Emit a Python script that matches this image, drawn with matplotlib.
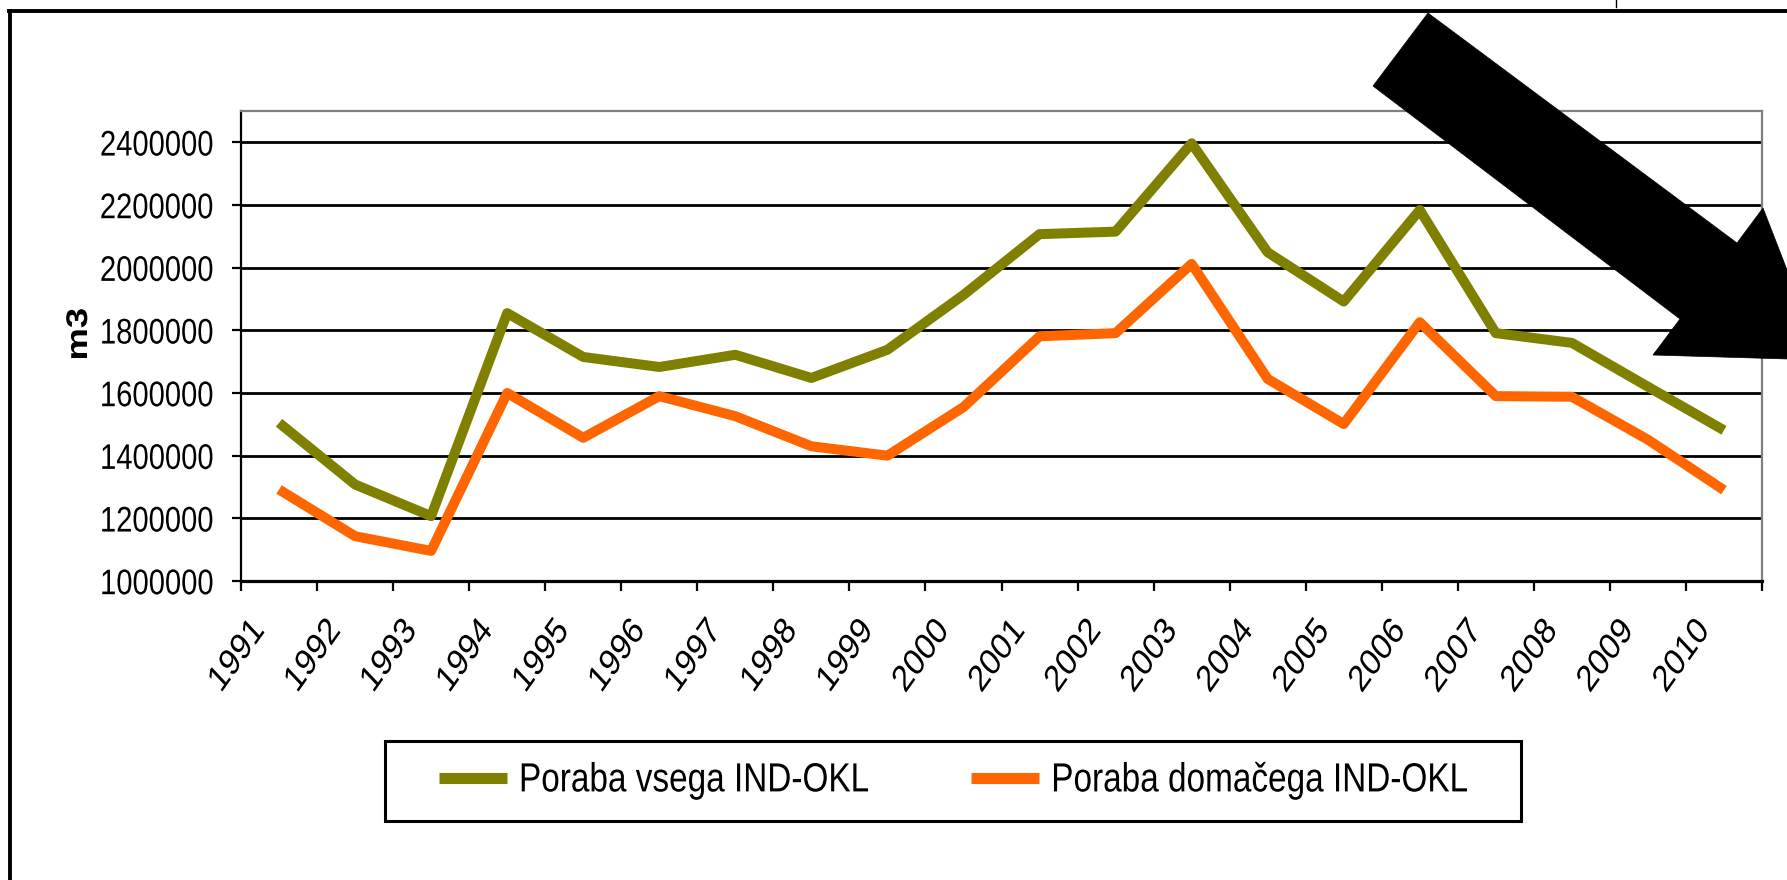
import matplotlib
matplotlib.use('Agg')
import matplotlib.pyplot as plt
from matplotlib import font_manager as fm
from matplotlib.lines import Line2D
from matplotlib.patches import Polygon, Rectangle
from matplotlib.transforms import ScaledTranslation, Affine2D
from matplotlib.patheffects import AbstractPathEffect
import numpy as np

# ---------------- data ----------------
years = ['1991', '1992', '1993', '1994', '1995', '1996', '1997', '1998', '1999', '2000',
         '2001', '2002', '2003', '2004', '2005', '2006', '2007', '2008', '2009', '2010']
poraba_vsega = [1505000, 1308000, 1207000, 1855000, 1715000, 1683000, 1722000, 1648000,
                1738000, 1913000, 2107000, 2115000, 2397000, 2049000, 1892000, 2184000,
                1791000, 1760000, 1620000, 1481000]
poraba_domacega = [1292000, 1143000, 1096000, 1600000, 1457000, 1590000, 1526000, 1430000,
                   1400000, 1555000, 1781000, 1791000, 2012000, 1645000, 1501000, 1826000,
                   1590000, 1588000, 1451000, 1290000]
ytick_values = [1000000, 1200000, 1400000, 1600000, 1800000, 2000000, 2200000, 2400000]
ytick_labels = ['1000000', '1200000', '1400000', '1600000', '1800000', '2000000', '2200000', '2400000']
series_names = ['Poraba vsega IND-OKL', 'Poraba domačega IND-OKL']
series_colors = ['#808000', '#FF6600']
y_label = 'm3'


def has_font(name):
    try:
        fm.findfont(fm.FontProperties(family=name), fallback_to_default=False)
        return True
    except Exception:
        return False


BASE = 'Liberation Sans' if has_font('Liberation Sans') else 'DejaVu Sans'
FONT = [BASE, 'DejaVu Sans']
SY = 1.22  # the source picture is stretched vertically


class VStretch(AbstractPathEffect):
    """Draw text stretched vertically about its own centre (text stays a Text object)."""

    def __init__(self, sy):
        super().__init__()
        self.sy = sy

    def draw_path(self, renderer, gc, tpath, affine, rgbFace=None):
        ext = tpath.get_extents(affine)
        cx = 0.5 * (ext.x0 + ext.x1)
        cy = 0.5 * (ext.y0 + ext.y1)
        t = affine + Affine2D().translate(-cx, -cy).scale(1.0, self.sy).translate(cx, cy)
        renderer.draw_path(gc, tpath, t, rgbFace)


stretch = [VStretch(SY)]

W, H = 1787, 880
DPI = 100
fig = plt.figure(figsize=(W / DPI, H / DPI), dpi=DPI)
fig.patch.set_facecolor('white')


def fx(x):
    return x / W


def fy(y):
    return 1 - y / H


# ---------------- axes ----------------
ax_l, ax_r, ax_t, ax_b = 241, 1762, 111, 581
ax = fig.add_axes([fx(ax_l), fy(ax_b), (ax_r - ax_l) / W, (ax_b - ax_t) / H])
ax.set_facecolor('white')

x = np.arange(len(years))
for vals, name, col in zip([poraba_vsega, poraba_domacega], series_names, series_colors):
    ax.plot(x, vals, color=col, lw=7.2, solid_capstyle='butt', solid_joinstyle='round',
            label=name, zorder=3)

ax.set_xlim(-0.5, len(years) - 0.5)
ax.set_ylim(1000000, 2500000)

ax.set_yticks(ytick_values)
ax.set_yticklabels(ytick_labels)
for lab in ax.get_yticklabels():
    lab.set_family(FONT)
    lab.set_fontsize(21)
    lab.set_path_effects(stretch)
ax.tick_params(axis='y', direction='out', length=6.5, width=1.6, pad=13.7, colors='black')

ax.set_xticks(np.arange(-0.5, len(years), 1.0))
ax.set_xticklabels([])
ax.tick_params(axis='x', direction='out', length=7.5, width=1.6, colors='black')

ax.yaxis.grid(True, color='black', lw=2.0)
ax.set_axisbelow(True)

ax.spines['left'].set_color('black')
ax.spines['left'].set_linewidth(1.6)
ax.spines['bottom'].set_color('black')
ax.spines['bottom'].set_linewidth(2.3)
for s in ['top', 'right']:
    ax.spines[s].set_color('#808080')
    ax.spines[s].set_linewidth(1.6)

# rotated year labels (centre of each label placed below-left of its category)
off = ScaledTranslation(-42 / DPI, -75 / DPI, fig.dpi_scale_trans)
for i, yr in enumerate(years):
    ax.text(i, 0, yr, transform=ax.get_xaxis_transform() + off, rotation=49,
            ha='center', va='center', rotation_mode='anchor', fontsize=22,
            family=FONT, color='black', path_effects=stretch)

# y axis title
fig.text(fx(79), fy(334), y_label, rotation=90, ha='center', va='center',
         fontsize=21.5, fontweight='bold', family=FONT, path_effects=stretch)

# ---------------- legend ----------------
leg_fs = 24
fs_px = leg_fs * DPI / 72
handles = [Line2D([], [], color=c, lw=8, solid_capstyle='butt') for c in series_colors]
leg = fig.legend(handles, series_names, loc='center left',
                 bbox_to_anchor=(fx(439), fy(781)), bbox_transform=fig.transFigure,
                 ncol=2, frameon=False, borderpad=0, borderaxespad=0,
                 handlelength=68 / fs_px, handletextpad=12 / fs_px,
                 columnspacing=102 / fs_px, prop={'family': FONT, 'size': leg_fs})
for t in leg.get_texts():
    t.set_path_effects(stretch)
fig.patches.append(Rectangle((fx(385), fy(821)), (1521 - 385) / W, (821 - 741) / H,
                             transform=fig.transFigure, fill=False, ec='black', lw=2.2))

# ---------------- outer frame ----------------
fig.lines.append(Line2D([fx(10), fx(10)], [fy(11), fy(H + 5)], transform=fig.transFigure,
                        color='black', lw=2.8))
fig.lines.append(Line2D([fx(9), fx(W + 5)], [fy(11), fy(11)], transform=fig.transFigure,
                        color='black', lw=2.8))
fig.lines.append(Line2D([fx(1616), fx(1616)], [fy(0), fy(7)], transform=fig.transFigure,
                        color='black', lw=1.0))

# ---------------- big arrow ----------------
arrow_px = [(1428, 13), (1737, 243), (1763, 208), (1822, 360), (1653, 355), (1680, 319), (1373, 86)]
arrow = Polygon([(fx(a), fy(b)) for a, b in arrow_px], closed=True, transform=fig.transFigure,
                fc='black', ec='black', lw=0.5, zorder=10, clip_on=False)
fig.patches.append(arrow)

fig.savefig('out.png', dpi=DPI, facecolor='white')
